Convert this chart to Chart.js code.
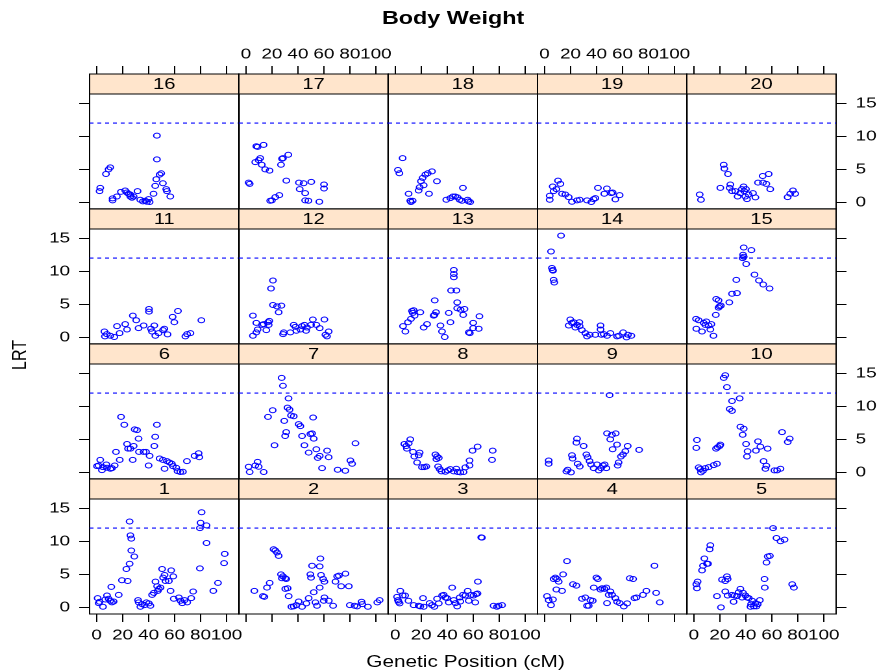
<!DOCTYPE html>
<html>
<head>
<meta charset="utf-8">
<script src="https://cdn.jsdelivr.net/npm/chart.js@4.4.1/dist/chart.umd.min.js"></script>
<style>
body { margin: 0; background: #fff; }
#wrap { position: absolute; left: 0; top: 0; width: 677px; height: 670px;
        transform: scaleX(1.2983); transform-origin: 0 0;
        font-family: 'Liberation Sans', Arial, Helvetica, sans-serif; color: #000; }
#wrap canvas { position: absolute; }
.lbl { position: absolute; white-space: nowrap; line-height: 1; }
#title { left: 349px; top: 8.7px; font-size: 18px; font-weight: bold; transform: translateX(-50%); }
#xlab { left: 358.6px; top: 654px; font-size: 16px; transform: translateX(-50%); }
#ylab { left: 15px; top: 355px; font-size: 16px; transform: translate(-50%, -50%) rotate(-90deg); }
</style>
</head>
<body>
<div id="wrap">
  <div class="lbl" id="title">Body Weight</div>
  <div class="lbl" id="xlab">Genetic Position (cM)</div>
  <div class="lbl" id="ylab">LRT</div>
</div>
<script>
// [position cM, LRT] per chromosome
const chr1 = [[0.8,1.4],[1.6,0.65],[2.3,0.85],[4.9,0.1],[6.7,1.2],[8,1.8],[9.2,1.3],[10.5,1.0],[11.3,3.1],[11.8,0.75],[13.1,0.9],[17,1.9],[19.5,4.1],[22.9,5.8],[23.9,4.0],[25.4,13.0],[25.4,6.6],[26,10.9],[26.7,10.4],[26.7,8.6],[29,7.7],[31.9,1.1],[32.4,0.75],[33.7,0.1],[35,0.5],[36.8,0.35],[38.3,0.75],[40.2,0.6],[41.4,0.25],[42.7,1.9],[44,2.2],[45.3,3.9],[46.6,3.2],[47.1,2.5],[47.9,2.8],[49.2,3.0],[50.4,5.8],[51.2,4.5],[52.3,4.9],[53,4.0],[55.6,4.0],[56.9,2.5],[57.4,5.6],[59,4.7],[59.4,1.3],[63.3,1.5],[64.6,1.0],[65.9,0.65],[67.7,1.1],[69.7,0.75],[72.8,1.4],[74.3,2.4],[79.5,5.9],[79.5,12.0],[80,12.8],[80.8,14.4],[84.6,12.4],[84.6,9.75],[89.8,2.5],[93.4,3.7],[98.1,6.7],[98.6,8.1]];
const chr2 = [[6.5,2.5],[13.1,1.7],[14.2,1.6],[16.2,3.0],[18.3,3.7],[21.3,8.8],[22.6,8.6],[23.9,8.3],[25.2,7.8],[27,5.0],[28.5,4.7],[27.7,4.4],[30.3,4.4],[31,4.3],[30.3,2.8],[32.1,2.9],[32.9,1.7],[35,0.1],[36.8,0.15],[38.8,0.35],[40.6,0.9],[43.2,0.1],[46.5,0.6],[48.3,1.4],[49.6,5.0],[50.1,4.5],[50.9,6.3],[52.2,2.3],[53.5,0.75],[54.7,0.25],[56.8,3.0],[56.8,6.2],[57.3,7.4],[57.8,4.9],[59.4,4.3],[60.4,3.9],[60.4,1.5],[59.9,1.0],[63.8,1.0],[67.1,0.25],[68.9,3.9],[70.2,4.7],[71.5,4.8],[73.3,3.2],[76.6,5.1],[79.2,3.2],[80,0.35],[83.6,0.25],[85.6,0.15],[89,0.85],[89.5,0.5],[93.9,0.1],[101.1,0.75],[102.9,1.1]];
const chr3 = [[1.4,1.6],[2.1,1.1],[2.6,0.85],[3.4,0.6],[3.9,2.5],[5.8,1.8],[7.6,1.8],[10.2,1.0],[14.2,0.35],[18,0.25],[19.3,0.15],[21.4,1.4],[21.9,0.1],[26.5,0.65],[28.3,0.35],[30.1,0.1],[32.2,1.3],[33.5,0.6],[36.1,1.8],[37.3,1.9],[38.6,1.5],[39.9,1.4],[41.2,0.75],[43.8,3.0],[45,1.1],[46.4,0.65],[47.7,0.15],[49.6,1.5],[50.1,0.9],[52.1,1.9],[54,1.8],[56.6,1.0],[55.8,2.5],[58.3,1.9],[60.3,1.8],[61.6,0.75],[62.3,2.0],[63.3,2.1],[63.6,3.9],[66.2,10.6],[66.7,10.55],[75.7,0.25],[78.3,0.1],[79.6,0.25],[82.2,0.35]];
const chr4 = [[1.9,1.7],[3.2,1.1],[5,0.35],[6.5,1.2],[7,4.3],[8.3,4.5],[9.6,4.3],[9.1,2.7],[10.9,3.9],[13.5,2.5],[14.3,5.0],[17.3,7.0],[21.9,3.5],[24.5,3.3],[28.8,1.3],[31.4,1.5],[32.7,0.25],[34,0.25],[35.3,1.1],[37.1,1.0],[37.9,3.0],[39.9,4.5],[41,4.3],[43,2.7],[44.3,2.9],[46.1,2.8],[47.6,3.0],[48.1,0.65],[50.7,2.4],[49.4,1.9],[52,1.9],[54.5,1.4],[55.8,0.85],[57.9,0.65],[61,0.15],[63.6,0.6],[65.6,4.4],[68.2,4.3],[69.2,1.4],[70.7,1.5],[75.8,1.9],[78.4,2.5],[84.6,6.3],[85.9,2.2],[88.7,0.75]];
const chr5 = [[1.9,3.5],[2.4,2.9],[2.9,3.9],[6.3,5.6],[7.1,6.3],[8.1,7.4],[10.1,6.6],[10.9,6.6],[12.7,9.4],[12.2,8.8],[17.8,1.7],[20.9,0],[21.7,4.2],[24.2,4.0],[25.5,4.7],[26,4.3],[24.2,2.4],[26,1.8],[29.4,1.9],[30.6,0.85],[31.4,1.8],[33.2,1.7],[34.5,2.3],[35.8,2.8],[37.1,1.5],[37.9,2.2],[39.7,1.8],[41,1.5],[42.3,1.4],[43.6,0.1],[44.1,0.5],[44.9,1.0],[46.2,0.15],[47.4,0.6],[48.2,0.15],[49.2,0.5],[50.8,1.1],[54.4,4.3],[54.6,3.0],[55.9,6.8],[56.9,7.7],[58.5,7.8],[61,12.0],[63.6,10.5],[66.7,10.0],[69.8,10.25],[75.7,3.5],[77,3.0]];
const chr6 = [[0.3,0.95],[1.5,1.05],[2.8,1.9],[4.1,0.35],[4.9,0.8],[7.5,1.2],[8,0.7],[10.6,0.55],[11.8,0.65],[13.9,1.05],[14.9,3.1],[17.8,1.9],[18.8,8.4],[21.3,7.2],[23.4,4.3],[24.2,3.6],[26,3.6],[27.8,1.9],[28.5,4.0],[29.3,6.5],[31.1,6.4],[32.3,5.1],[32.6,3.1],[36.2,3.1],[38,3.1],[40,1.05],[40.8,2.5],[44.4,4.0],[45.1,5.4],[46.4,7.2],[48.5,2.1],[51,1.9],[52.3,0.55],[54.1,1.7],[56.1,1.5],[57.9,1.3],[58.7,0.95],[61.3,0.7],[62.3,0.2],[64.4,0.05],[66.4,0.1],[69.5,1.7],[75.4,2.5],[78.5,2.9],[79,2.3]];
const chr7 = [[2.1,0.85],[2.9,0.05],[7.2,1.05],[9,1.6],[9.8,0.85],[13.7,0.05],[17,8.4],[20.6,9.4],[22,4.1],[27.5,14.3],[28.5,13.1],[29.5,7.8],[30.2,5.5],[31,6.1],[32.8,11.2],[32,9.8],[33.6,9.5],[34.7,8.6],[36.8,8.5],[40.6,7.3],[41.9,7.0],[43.2,5.5],[45,4.1],[48.3,3.0],[49.6,5.8],[50.9,5.9],[51.7,8.3],[52.2,5.1],[54.2,3.5],[55.3,2.2],[56.8,2.5],[58.6,0.65],[62.5,3.3],[63.7,2.3],[70.6,0.4],[76.5,0.25],[80.4,1.8],[81.7,1.3],[84.3,4.4]];
const chr8 = [[7,4.3],[8.5,4.0],[10.4,4.4],[11.6,5.0],[9,3.6],[13.7,3.1],[14.7,2.4],[16.8,1.5],[18.8,3.0],[18,2.6],[20.6,0.8],[22.4,0.8],[23.9,0.9],[30.9,2.7],[32.2,2.4],[31.7,2.0],[33.5,2.2],[33,0.9],[34.3,0.5],[35.6,0.15],[38.6,0.1],[40.6,0.3],[42.4,0.5],[45,0.15],[47,0.55],[48,0.05],[50.1,0],[52.6,0.05],[53.9,0.75],[57.2,1.05],[57.2,1.8],[59.5,3.3],[63.4,3.9],[75,3.3],[74.5,1.9]];
const chr9 = [[3.2,1.8],[3.2,1.3],[16.8,0.15],[17.8,0.4],[20.4,0],[21.1,2.6],[21.6,2.1],[25,5.1],[24.5,4.5],[25.5,1.3],[27.1,0.9],[30.1,4.0],[32.2,2.7],[33.2,2.3],[34.7,1.7],[35.8,1.2],[37.8,0.65],[40.4,1.2],[41.7,0.3],[43.5,0.65],[45,1.05],[46.3,1.2],[47.6,0.65],[48.1,5.9],[50.1,11.7],[50.6,5.0],[51.9,5.7],[52.4,3.5],[54.8,5.9],[55.8,4.2],[56.3,1.05],[57,1.5],[58.8,2.4],[60.4,2.7],[62.2,3.2],[64,4.0],[72.8,3.4]];
const chr10 = [[2.4,4.9],[1.9,3.7],[3.7,0.75],[5,0.5],[5.5,0],[7,0.25],[8.8,0.65],[11.4,0.8],[15.3,1.1],[17.8,1.3],[17.1,3.6],[18.3,3.8],[19.9,4.0],[20.4,4.2],[23,14.3],[24.2,14.7],[25.5,12.9],[29.4,10.8],[27.6,9.6],[29.4,9.3],[35.3,11.2],[35.8,6.9],[38.4,6.6],[37.6,5.7],[40.2,4.3],[41.4,3.2],[40.9,2.4],[47.8,3.3],[49.4,4.7],[51.2,3.9],[56.8,3.6],[53.7,1.7],[55.8,1.0],[55.1,0.55],[62,0.3],[64.1,0.3],[66.7,0.55],[67.9,6.1],[72.3,4.6],[73.8,5.1]];
const chr11 = [[6,0.9],[6.4,0.15],[7.9,0.5],[10.5,0.25],[13.6,0.05],[15.7,1.7],[17.7,0.65],[22,2.0],[23.4,1.2],[27.9,3.3],[30.5,2.6],[32.3,1.4],[36.2,1.8],[40.3,4.3],[40.3,3.9],[41.8,1.3],[42.6,0.9],[44.4,1.8],[45.2,0.25],[47.7,0.65],[51.1,1.1],[52.1,1.3],[54.6,0.45],[58.5,3.1],[59.8,2.3],[62.6,4.0],[68.3,0.15],[69.6,0.5],[72.2,0.65],[80.6,2.6]];
const chr12 = [[5.4,3.3],[5.4,0.25],[8,0.75],[9,1.2],[8,2.2],[12.4,1.9],[13.6,2.0],[15.7,1.1],[17,2.3],[18,2.5],[17.5,1.9],[19.3,7.4],[20.8,8.6],[20.8,4.9],[23.9,4.7],[27.3,4.8],[25.2,3.8],[28.6,0.5],[29.1,0.75],[34.2,0.75],[36.8,1.9],[38.1,1.6],[38.8,1.0],[41.9,1.2],[43.2,1.7],[45,1.9],[46.3,1.0],[47,1.5],[50.1,1.9],[51.5,2.7],[54.2,1.9],[56.8,1.4],[60.4,2.7],[61.2,0.4],[62.4,0.15],[63.7,0.9]];
const chr13 = [[6,1.7],[7.8,0.9],[9.8,2.3],[12.1,2.8],[13.5,3.7],[14.2,4.1],[12.9,4.0],[14.9,3.3],[19.3,3.8],[21.9,1.5],[24.5,2.0],[30.4,5.6],[29.6,3.3],[30.2,3.4],[31.4,3.8],[34.8,1.8],[36,0.9],[38.1,0.05],[41.2,3.7],[42.5,2.3],[43,7.1],[47.1,7.1],[45.1,9.1],[45.1,9.6],[45.1,10.2],[47.7,5.3],[47.7,4.4],[50.3,4.2],[53.3,4.3],[52.3,3.4],[56.6,0.75],[57.4,0.65],[60,2.2],[60,1.4],[64.3,1.3],[64.8,3.2]];
const chr14 = [[5,13.0],[12.7,15.4],[5.7,10.5],[6.3,10.2],[6.5,10.1],[7,8.7],[7.5,8.3],[18.6,1.8],[19.8,2.7],[21.1,2.2],[22.4,2.3],[23.7,1.5],[26.8,2.3],[25,1.9],[27,1.7],[28.8,1.1],[31.4,0.65],[32.7,0.15],[34.8,0.4],[39.1,0.4],[43.1,1.8],[43.1,1.2],[43.8,0.4],[45.6,0.5],[48.1,0.25],[50.7,0.65],[55.8,0.15],[57.2,0.25],[60.5,0.75],[63.1,0],[64.2,0.4],[66.8,0.25]];
const chr15 = [[1.7,2.8],[3.7,2.6],[1.9,1.3],[6.3,0.9],[7.6,2.2],[9.6,2.4],[8.8,1.9],[11.4,1.8],[13.5,2.0],[12.7,1.2],[15.1,0.25],[16.9,3.4],[17.2,5.8],[19,5.6],[19.8,4.7],[19,4.5],[20.8,4.8],[27.3,5.3],[29.4,6.6],[33.2,6.7],[32.7,8.7],[38.4,13.6],[38.4,12.2],[37.9,12.5],[37.6,12.0],[44.3,13.2],[40.3,11.1],[46.7,9.5],[50.1,8.6],[53.4,8.0],[58.3,7.4]];
const chr16 = [[2.8,2.2],[2.3,1.7],[7.2,4.3],[9.2,5.0],[10.5,5.3],[12.3,0.3],[12.3,0.6],[15.6,0.9],[18.7,1.6],[22,1.8],[23.3,1.5],[24.6,1.3],[25.9,1.2],[25.9,0.9],[27.2,0.7],[28.5,0.9],[31.5,1.7],[33.6,0.4],[35.6,0.15],[37.4,0.25],[38.7,0.1],[40,0.5],[40.8,0.05],[43.8,1.3],[45.1,2.5],[45.9,3.5],[48.5,4.2],[49.7,4.4],[46.4,6.5],[46.4,10.1],[51,2.9],[53.6,2.0],[54.1,1.7],[56.7,0.9]];
const chr17 = [[2.1,3.0],[2.9,2.8],[8,8.5],[9,8.4],[13.6,8.7],[7.2,6.1],[9.8,6.4],[11,6.7],[12.2,5.7],[14.8,5.0],[18.2,4.8],[18.7,0.25],[20,0.3],[22.6,0.8],[25.7,1.1],[27,5.7],[27.8,6.6],[28.5,6.7],[32.6,7.2],[31.1,3.3],[40.8,3.0],[44.4,2.9],[41.4,2.0],[45.6,1.4],[50.3,3.1],[45.6,0.3],[48.1,0.25],[56.5,0.1],[60.1,2.7],[60.1,2.1]];
const chr18 = [[5.7,6.7],[2.1,4.9],[3.2,4.4],[10.3,1.3],[11.6,0.25],[13.4,0.25],[12.1,0.05],[18,1.8],[18.8,2.3],[19.8,3.2],[21.1,3.7],[21.9,2.6],[23.2,4.2],[25,4.4],[28.3,4.7],[26,1.3],[32.1,3.2],[39.3,0.4],[42.4,0.65],[44.4,0.9],[46.2,0.9],[48,0.75],[49.6,0.4],[52.1,2.2],[51.4,0.25],[55.7,0.4],[57.7,0.05],[56.4,0.15]];
const chr19 = [[4,1.0],[4,0.4],[6.3,2.4],[7,1.7],[10.4,3.3],[12.2,2.8],[9.1,2.0],[13.5,1.3],[16,1.2],[18.6,0.8],[21.1,0.1],[25,0.3],[27.1,0.4],[32.7,0.3],[36,0.05],[37.8,0.5],[39.1,0.65],[41.1,2.2],[46,1.3],[48,2.1],[51.4,1.4],[52.4,1.5],[54.5,0.45],[57.8,1.1]];
const chr20 = [[4.5,1.2],[5.5,0.4],[20.4,2.2],[23,5.7],[23.5,5.1],[26.3,4.3],[28.1,2.7],[27.6,2.2],[29.4,1.7],[31.9,1.7],[33.7,0.9],[35.7,1.4],[37,2.0],[38.3,2.4],[38.8,1.7],[39.6,0.9],[40.9,0.5],[42.2,1.2],[40.1,2.0],[45.5,1.4],[47.4,0.75],[49.4,3.0],[53.2,3.0],[53,4.0],[57.6,4.3],[55.8,2.8],[58.8,2.0],[72.2,0.8],[74.2,1.3],[76.3,1.8],[78,1.3]];

const chrData = {1: chr1, 2: chr2, 3: chr3, 4: chr4, 5: chr5, 6: chr6, 7: chr7, 8: chr8, 9: chr9, 10: chr10,
                 11: chr11, 12: chr12, 13: chr13, 14: chr14, 15: chr15, 16: chr16, 17: chr17, 18: chr18, 19: chr19, 20: chr20};

// panel layout, top row first
const panelRows = [[16, 17, 18, 19, 20], [11, 12, 13, 14, 15], [6, 7, 8, 9, 10], [1, 2, 3, 4, 5]];
const xTicks = [0, 20, 40, 60, 80, 100];
const yTicks = [0, 5, 10, 15];
const threshold = 12;

const xMin = -5.4, xMax = 109.5;
const yMin = -1.0, yPlotMax = 16.4;

// geometry (before the horizontal stretch)
const PL = 69, PT = 74, PW = 115, STRIP = 20, PLOT = 115, M = 40;
const ROWH = STRIP + PLOT;
const yMax = yPlotMax + STRIP * (yPlotMax - yMin) / PLOT;

const FONT = "'Liberation Sans', Arial, Helvetica, sans-serif";
Chart.defaults.font.family = FONT;
Chart.defaults.color = '#000';

const stripPlugin = {
    id: 'strip',
    afterDatasetsDraw(chart, args, opts) {
        const ctx = chart.ctx;
        const a = chart.chartArea;
        const yb = chart.scales.y.getPixelForValue(yPlotMax);
        ctx.save();
        ctx.fillStyle = '#ffe5cc';
        ctx.fillRect(a.left, a.top, a.right - a.left, yb - a.top);
        ctx.strokeStyle = '#000';
        ctx.lineWidth = 1;
        ctx.strokeRect(a.left, a.top, a.right - a.left, yb - a.top);
        ctx.fillStyle = '#000';
        ctx.font = '15.5px ' + FONT;
        ctx.textAlign = 'center';
        ctx.textBaseline = 'middle';
        ctx.fillText(opts.label, (a.left + a.right) / 2, (a.top + yb) / 2 + 0.5);
        ctx.restore();
    }
};

function axis(position, min, max, ticks, showTicks, showLabels, horizontal) {
    return {
        type: 'linear',
        position: position,
        min: min,
        max: max,
        afterBuildTicks: s => { s.ticks = ticks.map(v => ({value: v})); },
        afterFit: s => { if (horizontal) { s.height = M; } else { s.width = M; } },
        grid: {display: true, drawOnChartArea: false, drawTicks: showTicks, tickLength: 8,
               color: '#000', tickColor: '#000', lineWidth: 1},
        border: {display: true, color: '#000', width: 1},
        ticks: {display: showLabels, autoSkip: false, maxRotation: 0, minRotation: 0,
                padding: horizontal ? (position === 'top' ? 3 : 5) : 7,
                font: {size: 14.5}, color: '#000'}
    };
}

const wrap = document.getElementById('wrap');

panelRows.forEach((row, r) => {
    row.forEach((chrom, c) => {
        const canvas = document.createElement('canvas');
        canvas.width = PW + 2 * M;
        canvas.height = ROWH + 2 * M;
        canvas.style.left = (PL + c * PW - M) + 'px';
        canvas.style.top = (PT + r * ROWH - M) + 'px';
        wrap.appendChild(canvas);

        const pts = chrData[chrom].map(p => ({x: p[0], y: p[1]}));

        new Chart(canvas, {
            type: 'scatter',
            data: {
                datasets: [{
                    data: pts,
                    pointStyle: 'circle',
                    pointRadius: 2.5,
                    pointBorderWidth: 1,
                    borderColor: '#0000ff',
                    backgroundColor: 'rgba(0,0,0,0)',
                    xAxisID: 'x',
                    yAxisID: 'y'
                }, {
                    type: 'line',
                    data: [{x: xMin, y: threshold}, {x: xMax, y: threshold}],
                    borderColor: '#0000ff',
                    borderWidth: 1.1,
                    borderDash: [3, 3],
                    pointRadius: 0,
                    xAxisID: 'x',
                    yAxisID: 'y'
                }]
            },
            options: {
                responsive: false,
                animation: false,
                devicePixelRatio: 2,
                events: [],
                layout: {padding: 0, autoPadding: false},
                plugins: {legend: {display: false}, tooltip: {enabled: false}, strip: {label: String(chrom)}},
                scales: {
                    x: axis('bottom', xMin, xMax, xTicks, r === 3, r === 3 && c % 2 === 0, true),
                    x2: axis('top', xMin, xMax, xTicks, r === 0, r === 0 && c % 2 === 1, true),
                    y: axis('left', yMin, yMax, yTicks, c === 0, c === 0 && r % 2 === 1, false),
                    y2: axis('right', yMin, yMax, yTicks, c === 4, c === 4 && r % 2 === 0, false)
                }
            },
            plugins: [stripPlugin]
        });
    });
});
</script>
</body>
</html>
